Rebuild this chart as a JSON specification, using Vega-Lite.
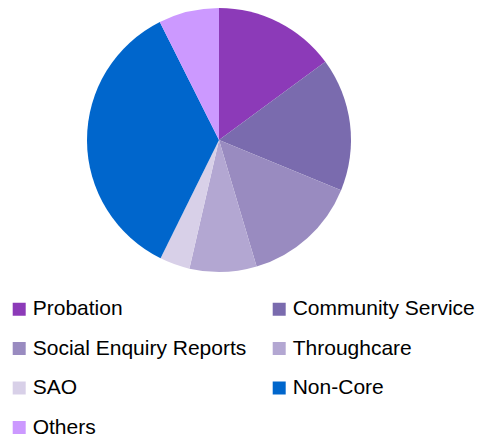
{
  "$schema": "https://vega.github.io/schema/vega-lite/v6.json",
  "width": 438,
  "height": 280,
  "padding": 0,
  "autosize": {"type": "pad"},
  "background": "white",
  "data": {
    "values": [
      {"category": "Probation", "share": 14.9, "idx": 1},
      {"category": "Community Service", "share": 16.3, "idx": 2},
      {"category": "Social Enquiry Reports", "share": 14.2, "idx": 3},
      {"category": "Throughcare", "share": 8.2, "idx": 4},
      {"category": "SAO", "share": 3.7, "idx": 5},
      {"category": "Non-Core", "share": 35.3, "idx": 6},
      {"category": "Others", "share": 7.4, "idx": 7}
    ]
  },
  "mark": {"type": "arc", "radius": 132},
  "encoding": {
    "theta": {"field": "share", "type": "quantitative", "stack": true},
    "order": {"field": "idx", "type": "quantitative"},
    "color": {
      "field": "category",
      "type": "nominal",
      "scale": {
        "domain": ["Probation", "Community Service", "Social Enquiry Reports", "Throughcare", "SAO", "Non-Core", "Others"],
        "range": ["#8C3AB8", "#7A6BAE", "#998BC0", "#B3A7D2", "#D8D0E8", "#0066CC", "#CC99FF"]
      },
      "legend": {
        "title": null,
        "orient": "none",
        "direction": "horizontal",
        "legendX": 8.7,
        "legendY": 298.5,
        "columns": 2,
        "columnPadding": 22,
        "rowPadding": 17.5,
        "symbolType": "square",
        "symbolSize": 169,
        "symbolStrokeWidth": 0,
        "symbolOpacity": 1,
        "labelFont": "Liberation Sans",
        "labelFontSize": 21,
        "labelColor": "#000000",
        "labelOffset": 3,
        "labelLimit": 400,
        "padding": 0
      }
    }
  },
  "config": {"view": {"stroke": null}}
}
